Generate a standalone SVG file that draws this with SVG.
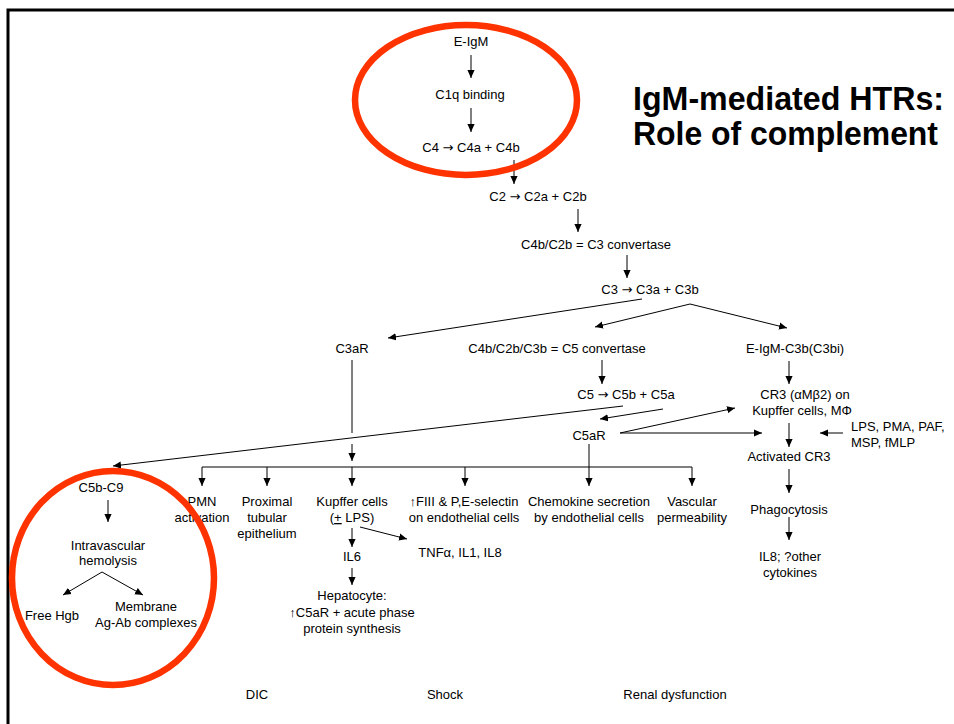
<svg xmlns="http://www.w3.org/2000/svg" width="954" height="724" viewBox="0 0 954 724">
  <defs>
    <marker id="arrow" viewBox="0 0 10 10" refX="10" refY="5" markerWidth="8" markerHeight="8" markerUnits="userSpaceOnUse" orient="auto">
      <path d="M0,0.5 L10,5 L0,9.5 z" fill="#000"/>
    </marker>
  </defs>
  <style>
    text { font-family: "Liberation Sans", Arial, "DejaVu Sans", sans-serif; font-size: 13px; fill: #000; text-anchor: middle; }
    .title { font-size: 32.5px; font-weight: bold; text-anchor: start; }
    .left { text-anchor: start; }
    .to { font-family: "DejaVu Sans", sans-serif; font-size: 13px; }
    #connectors line { stroke: #000; stroke-width: 1; fill: none; }
    .arr { marker-end: url(#arrow); }
    .ring { fill: none; stroke: #FF3300; stroke-width: 6.5; }
    .frame { stroke: #000; stroke-width: 3; fill: none; }
  </style>

  <rect width="954" height="724" fill="#fff"/>
  <path class="frame" d="M8,724 V10 H954"/>

  <!-- title -->
  <g id="title">
    <text class="title" x="633" y="110" textLength="311" lengthAdjust="spacingAndGlyphs">IgM-mediated HTRs:</text>
    <text class="title" x="633" y="145" textLength="305" lengthAdjust="spacingAndGlyphs">Role of complement</text>
  </g>

  <!-- classical pathway -->
  <g id="n-eigm"><text x="471" y="46">E-IgM</text></g>
  <g id="n-c1q"><text x="470" y="99">C1q binding</text></g>
  <g id="n-c4"><text x="471" y="152">C4 <tspan class="to">→</tspan> C4a + C4b</text></g>
  <g id="n-c2"><text x="538" y="201">C2 <tspan class="to">→</tspan> C2a + C2b</text></g>
  <g id="n-c3conv"><text x="596" y="249">C4b/C2b = C3 convertase</text></g>
  <g id="n-c3"><text x="650" y="294">C3 <tspan class="to">→</tspan> C3a + C3b</text></g>
  <g id="n-c3ar"><text x="352" y="353">C3aR</text></g>
  <g id="n-c5conv"><text x="557" y="353">C4b/C2b/C3b = C5 convertase</text></g>
  <g id="n-eigmc3b"><text x="795" y="353">E-IgM-C3b(C3bi)</text></g>
  <g id="n-c5"><text x="626" y="399">C5 <tspan class="to">→</tspan> C5b + C5a</text></g>
  <g id="n-c5ar"><text x="589" y="440">C5aR</text></g>

  <!-- CR3 branch -->
  <g id="n-cr3">
    <text x="805" y="399">CR3 (αMβ2) on</text>
    <text x="802" y="415">Kupffer cells, MΦ</text>
  </g>
  <g id="n-lps">
    <text class="left" x="851" y="431">LPS, PMA, PAF,</text>
    <text class="left" x="851" y="447">MSP, fMLP</text>
  </g>
  <g id="n-actcr3"><text x="789" y="461">Activated CR3</text></g>
  <g id="n-phago"><text x="789" y="514">Phagocytosis</text></g>
  <g id="n-il8">
    <text x="790" y="561">IL8; ?other</text>
    <text x="790" y="577">cytokines</text>
  </g>

  <!-- effector targets -->
  <g id="n-pmn">
    <text x="202" y="506">PMN</text>
    <text x="202" y="522">activation</text>
  </g>
  <g id="n-prox">
    <text x="267" y="506">Proximal</text>
    <text x="267" y="522">tubular</text>
    <text x="267" y="538">epithelium</text>
  </g>
  <g id="n-kupffer">
    <text x="352" y="506">Kupffer cells</text>
    <text x="352" y="522">(<tspan text-decoration="underline">+</tspan> LPS)</text>
  </g>
  <g id="n-fiii">
    <text x="464" y="506">↑FIII &amp; P,E-selectin</text>
    <text x="464" y="522">on endothelial cells</text>
  </g>
  <g id="n-chemo">
    <text x="589" y="506">Chemokine secretion</text>
    <text x="589" y="522">by endothelial cells</text>
  </g>
  <g id="n-vasc">
    <text x="692" y="506">Vascular</text>
    <text x="692" y="522">permeability</text>
  </g>
  <g id="n-il6"><text x="352" y="561">IL6</text></g>
  <g id="n-tnf"><text x="460" y="557">TNFα, IL1, IL8</text></g>
  <g id="n-hepato">
    <text x="352" y="600">Hepatocyte:</text>
    <text x="352" y="617">↑C5aR + acute phase</text>
    <text x="352" y="633">protein synthesis</text>
  </g>

  <!-- membrane attack branch -->
  <g id="n-c5bc9"><text x="101" y="492">C5b-C9</text></g>
  <g id="n-hemolysis">
    <text x="108" y="550">Intravascular</text>
    <text x="108" y="565">hemolysis</text>
  </g>
  <g id="n-hgb"><text x="52" y="620">Free Hgb</text></g>
  <g id="n-membrane">
    <text x="146" y="611">Membrane</text>
    <text x="146" y="627">Ag-Ab complexes</text>
  </g>

  <!-- clinical outcomes -->
  <g id="n-dic"><text x="257" y="699">DIC</text></g>
  <g id="n-shock"><text x="445" y="699">Shock</text></g>
  <g id="n-renal"><text x="675" y="699">Renal dysfunction</text></g>

  <g id="connectors">
    <line class="arr" x1="471" y1="55" x2="471" y2="78"/>
    <line class="arr" x1="471" y1="108" x2="471" y2="132"/>
    <line class="arr" x1="514" y1="160" x2="514" y2="184"/>
    <line class="arr" x1="578" y1="209" x2="578" y2="232"/>
    <line class="arr" x1="627" y1="255" x2="627" y2="278"/>
    <line class="arr" x1="642" y1="299" x2="388" y2="338"/>
    <line class="arr" x1="690" y1="304" x2="595" y2="327"/>
    <line class="arr" x1="690" y1="304" x2="787" y2="328"/>
    <line class="arr" x1="602" y1="360" x2="602" y2="384"/>
    <line class="arr" x1="623" y1="406" x2="113" y2="466"/>
    <line class="arr" x1="663" y1="409" x2="600" y2="419"/>
    <!-- C3aR drop, broken where the C5b line crosses -->
    <line x1="352" y1="360" x2="352" y2="433"/>
    <line class="arr" x1="352" y1="444" x2="352" y2="461"/>
    <!-- distribution bar and drops -->
    <line x1="202" y1="467" x2="692" y2="467"/>
    <line class="arr" x1="202" y1="467" x2="202" y2="486"/>
    <line class="arr" x1="267" y1="467" x2="267" y2="486"/>
    <line class="arr" x1="352" y1="467" x2="352" y2="486"/>
    <line class="arr" x1="465" y1="467" x2="465" y2="486"/>
    <line class="arr" x1="589" y1="444" x2="589" y2="486"/>
    <line class="arr" x1="692" y1="467" x2="692" y2="486"/>
    <!-- C5aR to CR3 -->
    <line class="arr" x1="620" y1="433" x2="735" y2="408"/>
    <line class="arr" x1="620" y1="433" x2="762" y2="433"/>
    <line class="arr" x1="789" y1="361" x2="789" y2="384"/>
    <line class="arr" x1="789" y1="423" x2="789" y2="447"/>
    <line class="arr" x1="843" y1="433" x2="820" y2="433"/>
    <line class="arr" x1="789" y1="469" x2="789" y2="493"/>
    <line class="arr" x1="789" y1="517" x2="789" y2="540"/>
    <!-- Kupffer cell outputs -->
    <line class="arr" x1="352" y1="528" x2="352" y2="547"/>
    <line class="arr" x1="352" y1="568" x2="352" y2="585"/>
    <line class="arr" x1="360" y1="527" x2="407" y2="539"/>
    <!-- hemolysis branch -->
    <line class="arr" x1="108" y1="500" x2="108" y2="522"/>
    <line class="arr" x1="102" y1="572" x2="63" y2="595"/>
    <line class="arr" x1="102" y1="572" x2="143" y2="595"/>
  </g>

  <!-- highlight rings -->
  <ellipse class="ring" cx="466" cy="100" rx="111" ry="75"/>
  <ellipse class="ring" cx="113" cy="578" rx="101" ry="107"/>
</svg>
